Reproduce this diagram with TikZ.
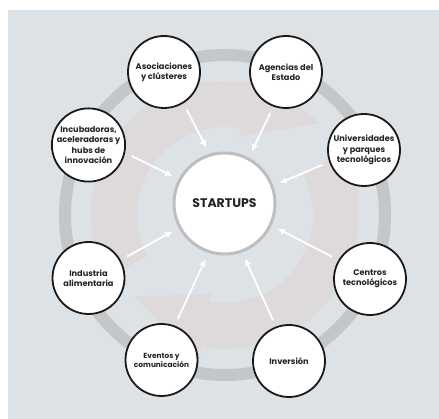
\documentclass[tikz,border=0pt]{standalone}
\usepackage{fontspec}
\setmainfont{Poppins}
\usetikzlibrary{arrows.meta}

\definecolor{panel}{RGB}{221,226,230}
\definecolor{ringgray}{RGB}{197,198,200}
\definecolor{swirl}{RGB}{222,217,219}
\definecolor{hubline}{RGB}{190,190,192}
\definecolor{ink}{RGB}{36,36,36}

\tikzset{
  actor/.style={circle,draw=black!90,line width=1.8pt,fill=white,minimum size=72pt,
    inner sep=0pt,align=center,text=ink,font=\bfseries\fontsize{8.2}{10.2}\selectfont},
  hub/.style={circle,draw=hubline,line width=3pt,fill=white,minimum size=101pt,
    text=ink,font=\bfseries\fontsize{12.5}{14}\selectfont},
  flow/.style={white,line width=1.8pt,-{Latex[length=7pt,width=7pt]},
    shorten <=7pt,shorten >=7pt}
}

\begin{document}
\begin{tikzpicture}[x=1pt,y=1pt]
    \useasboundingbox (0,0) rectangle (439,419);
    \fill[panel] (8,0) rectangle (439,409);

    \begin{scope}[shift={(225,204)}]
      \fill[swirl] (208:134) arc[start angle=208,end angle=80,radius=134] -- (80:150)
        -- (44:132) -- (80:80) -- (80:88) arc[start angle=80,end angle=208,radius=88] -- cycle;
      \fill[swirl] (28:134) arc[start angle=28,end angle=-100,radius=134] -- (-100:150)
        -- (-138:122) -- (-100:80) -- (-100:88) arc[start angle=-100,end angle=28,radius=88] -- cycle;
      \draw[ringgray,line width=12pt] (0,0) circle[radius=160];
    \end{scope}

    \node[hub] (st) at (224.5,215.5) {STARTUPS};

    \node[actor] (asoc) at (164,347) {Asociaciones\\y clústeres};
    \node[actor] (agen) at (286,347) {Agencias del\\Estado};
    \node[actor] (univ) at (364,269) {Universidades\\y parques\\tecnológicos};
    \node[actor] (incu) at (88.5,274) {Incubadoras,\\aceleradoras y\\hubs de\\innovación};
    \node[actor] (indu) at (88.5,141) {Industria\\alimentaria};
    \node[actor] (cent) at (370,140) {Centros\\tecnológicos};
    \node[actor,font=\bfseries\fontsize{7.4}{9}\selectfont] (even) at (161.5,59) {Eventos y\\comunicación};
    \node[actor] (inve) at (289,58) {Inversión};

    \draw[flow] (asoc.302) -- (st.107);
    \draw[flow] (agen.250) -- (st.62);
    \draw[flow] (incu.348) -- (st.152);
    \draw[flow] (univ.199) -- (st.20);
    \draw[flow] (indu.29) -- (st.208);
    \draw[flow] (cent.149) -- (st.335);
    \draw[flow] (even.69) -- (st.252);
    \draw[flow] (inve.111) -- (st.290);
\end{tikzpicture}
\end{document}
